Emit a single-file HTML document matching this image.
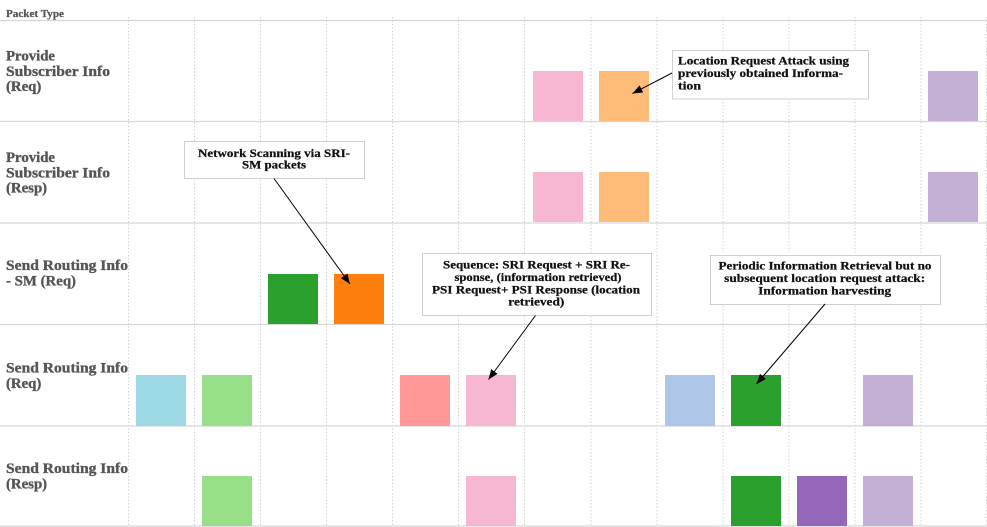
<!DOCTYPE html>
<html>
<head>
<meta charset="utf-8">
<style>
  html, body { margin: 0; padding: 0; background: #fff; }
  body { width: 987px; height: 527px; overflow: hidden; }
  svg { display: block; }
  .lbl { font-family: "Liberation Serif", serif; font-weight: bold; font-size: 14.8px; fill: #555; stroke: #555; stroke-width: 0.35px; }
  .ann { font-family: "Liberation Serif", serif; font-weight: bold; font-size: 12px; fill: #111; stroke: #111; stroke-width: 0.25px; }
</style>
</head>
<body>
<svg width="987" height="527" viewBox="0 0 987 527" xmlns="http://www.w3.org/2000/svg">
  <defs>
    <marker id="ah" markerWidth="10" markerHeight="8" refX="10" refY="4" orient="auto" markerUnits="userSpaceOnUse">
      <path d="M0,0 L10,4 L0,8 Z" fill="#000"/>
    </marker>
  </defs>

  <!-- vertical dotted grid -->
  <g stroke="#c8c8c8" stroke-width="1" stroke-dasharray="1.2,2.2">
    <line x1="128.5" y1="17" x2="128.5" y2="527"/>
    <line x1="194.5" y1="17" x2="194.5" y2="527"/>
    <line x1="260.5" y1="17" x2="260.5" y2="527"/>
    <line x1="326.5" y1="17" x2="326.5" y2="527"/>
    <line x1="392.5" y1="17" x2="392.5" y2="527"/>
    <line x1="458.5" y1="17" x2="458.5" y2="527"/>
    <line x1="524.5" y1="17" x2="524.5" y2="527"/>
    <line x1="591" y1="17" x2="591" y2="527"/>
    <line x1="657" y1="17" x2="657" y2="527"/>
    <line x1="723" y1="17" x2="723" y2="527"/>
    <line x1="789" y1="17" x2="789" y2="527"/>
    <line x1="855" y1="17" x2="855" y2="527"/>
    <line x1="921" y1="17" x2="921" y2="527"/>
    <line x1="986.5" y1="17" x2="986.5" y2="527"/>
  </g>

  <!-- horizontal row lines -->
  <g stroke="#d6d6d6" stroke-width="1.2">
    <line x1="0" y1="20.5" x2="987" y2="20.5"/>
    <line x1="0" y1="121.5" x2="987" y2="121.5"/>
    <line x1="0" y1="223" x2="987" y2="223"/>
    <line x1="0" y1="324.5" x2="987" y2="324.5"/>
    <line x1="0" y1="426" x2="987" y2="426"/>
    <line x1="0" y1="526" x2="987" y2="526"/>
  </g>

  <!-- bars -->
  <g shape-rendering="crispEdges">
    <rect x="533" y="71" width="50" height="50" fill="#f7b6d2"/>
    <rect x="599" y="71" width="50" height="50" fill="#ffbb78"/>
    <rect x="928" y="71" width="50" height="50" fill="#c5b0d5"/>
    <rect x="533" y="172" width="50" height="50" fill="#f7b6d2"/>
    <rect x="599" y="172" width="50" height="50" fill="#ffbb78"/>
    <rect x="928" y="172" width="50" height="50" fill="#c5b0d5"/>
    <rect x="268" y="274" width="50" height="50" fill="#2ca02c"/>
    <rect x="334" y="274" width="50" height="50" fill="#ff7f0e"/>
    <rect x="136" y="375" width="50" height="51" fill="#9edae5"/>
    <rect x="202" y="375" width="50" height="51" fill="#98df8a"/>
    <rect x="400" y="375" width="50" height="51" fill="#ff9896"/>
    <rect x="466" y="375" width="50" height="51" fill="#f7b6d2"/>
    <rect x="665" y="375" width="50" height="51" fill="#aec7e8"/>
    <rect x="731" y="375" width="50" height="51" fill="#2ca02c"/>
    <rect x="863" y="375" width="50" height="51" fill="#c5b0d5"/>
    <rect x="202" y="476" width="50" height="50" fill="#98df8a"/>
    <rect x="466" y="476" width="50" height="50" fill="#f7b6d2"/>
    <rect x="731" y="476" width="50" height="50" fill="#2ca02c"/>
    <rect x="797" y="476" width="50" height="50" fill="#9467bd"/>
    <rect x="863" y="476" width="50" height="50" fill="#c5b0d5"/>
  </g>

  <!-- header -->
  <text x="6" y="17" font-family="Liberation Serif, serif" font-weight="bold" font-size="10.5" fill="#555" stroke="#555" stroke-width="0.25" textLength="58" lengthAdjust="spacingAndGlyphs">Packet Type</text>

  <!-- row labels -->
  <text class="lbl" x="6" y="60.5" textLength="49" lengthAdjust="spacingAndGlyphs">Provide</text>
  <text class="lbl" x="6" y="76" textLength="104" lengthAdjust="spacingAndGlyphs">Subscriber Info</text>
  <text class="lbl" x="6" y="91">(Req)</text>

  <text class="lbl" x="6" y="162" textLength="49" lengthAdjust="spacingAndGlyphs">Provide</text>
  <text class="lbl" x="6" y="177.5" textLength="104" lengthAdjust="spacingAndGlyphs">Subscriber Info</text>
  <text class="lbl" x="6" y="192.5">(Resp)</text>

  <text class="lbl" x="6" y="270" textLength="122" lengthAdjust="spacingAndGlyphs">Send Routing Info</text>
  <text class="lbl" x="6" y="285.5" textLength="70" lengthAdjust="spacingAndGlyphs">- SM (Req)</text>

  <text class="lbl" x="6" y="372.5" textLength="122" lengthAdjust="spacingAndGlyphs">Send Routing Info</text>
  <text class="lbl" x="6" y="388">(Req)</text>

  <text class="lbl" x="6" y="473" textLength="122" lengthAdjust="spacingAndGlyphs">Send Routing Info</text>
  <text class="lbl" x="6" y="488.5">(Resp)</text>

  <!-- annotation 1 -->
  <rect x="672.5" y="50.5" width="196" height="48.5" fill="#fff" stroke="#d0d0d0" stroke-width="1"/>
  <text class="ann" x="678" y="64.5" textLength="171" lengthAdjust="spacingAndGlyphs">Location Request Attack using</text>
  <text class="ann" x="678" y="77" textLength="165" lengthAdjust="spacingAndGlyphs">previously obtained Informa-</text>
  <text class="ann" x="678" y="89.5" textLength="23" lengthAdjust="spacingAndGlyphs">tion</text>
  <line x1="672" y1="73" x2="632.5" y2="93.5" stroke="#000" stroke-width="1" marker-end="url(#ah)"/>

  <!-- annotation 2 -->
  <rect x="184.5" y="141.5" width="180" height="37" fill="#fff" stroke="#d0d0d0" stroke-width="1"/>
  <text class="ann" x="274" y="157" text-anchor="middle" textLength="152" lengthAdjust="spacingAndGlyphs">Network Scanning via SRI-</text>
  <text class="ann" x="274" y="168.5" text-anchor="middle" textLength="64" lengthAdjust="spacingAndGlyphs">SM packets</text>
  <line x1="274" y1="178.5" x2="350" y2="284" stroke="#000" stroke-width="1" marker-end="url(#ah)"/>

  <!-- annotation 3 -->
  <rect x="422.5" y="253.5" width="229" height="62" fill="#fff" stroke="#d0d0d0" stroke-width="1"/>
  <text class="ann" x="536.5" y="268.5" text-anchor="middle" textLength="187" lengthAdjust="spacingAndGlyphs">Sequence: SRI Request + SRI Re-</text>
  <text class="ann" x="538" y="281" text-anchor="middle" textLength="167" lengthAdjust="spacingAndGlyphs">sponse, (information retrieved)</text>
  <text class="ann" x="536" y="293.3" text-anchor="middle" textLength="208" lengthAdjust="spacingAndGlyphs">PSI Request+ PSI Response (location</text>
  <text class="ann" x="536.3" y="305.5" text-anchor="middle" textLength="56" lengthAdjust="spacingAndGlyphs">retrieved)</text>
  <line x1="535.5" y1="315.5" x2="488.5" y2="379.5" stroke="#000" stroke-width="1" marker-end="url(#ah)"/>

  <!-- annotation 4 -->
  <rect x="710.5" y="255.5" width="230" height="49" fill="#fff" stroke="#d0d0d0" stroke-width="1"/>
  <text class="ann" x="825" y="269.3" text-anchor="middle" textLength="213" lengthAdjust="spacingAndGlyphs">Periodic Information Retrieval but no</text>
  <text class="ann" x="824.7" y="281.8" text-anchor="middle" textLength="201" lengthAdjust="spacingAndGlyphs">subsequent location request attack:</text>
  <text class="ann" x="824.7" y="294.3" text-anchor="middle" textLength="133" lengthAdjust="spacingAndGlyphs">Information harvesting</text>
  <line x1="825" y1="304" x2="756.5" y2="384" stroke="#000" stroke-width="1" marker-end="url(#ah)"/>
</svg>
</body>
</html>
